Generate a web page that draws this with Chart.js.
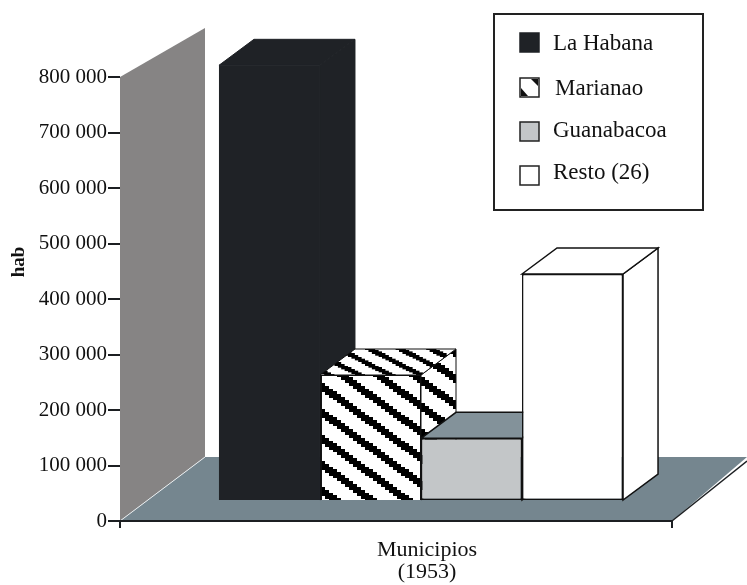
<!DOCTYPE html>
<html>
<head>
<meta charset="utf-8">
<title>Municipios 1953</title>
<script src="https://cdn.jsdelivr.net/npm/chart.js@4"></script>
<style>
    html, body { margin: 0; padding: 0; background: #fff; }
    canvas { display: block; }
</style>
</head>
<body>
<canvas id="chart" width="747" height="585"></canvas>
<script>
// Data
const categories = [["Municipios", "(1953)"]];
const seriesNames = ["La Habana", "Marianao", "Guanabacoa", "Resto (26)"];
const seriesValues = [785000, 227000, 113000, 409000];
const yMax = 800000;
const yStep = 100000;

const SERIF = "'Liberation Serif', 'Times New Roman', serif";

// Black and white stair-stepped stripes for Marianao
function makeStripes() {
    const c = document.createElement("canvas");
    c.width = 36;
    c.height = 26;
    const g = c.getContext("2d");
    g.fillStyle = "#fff";
    g.fillRect(0, 0, 36, 26);
    g.fillStyle = "#000";
    for (let i = 0; i < 36; i += 4) {
        const y = Math.round(i * 26 / 36 + 7) % 26;
        g.fillRect(i, y, 4, 9);
        g.fillRect(i, y - 26, 4, 9);
    }
    return g.createPattern(c, "repeat");
}

const stripes = makeStripes();
const topStripes = makeStripes();
topStripes.setTransform(new DOMMatrix().scale(0.85, 0.6));

const frontColors = ["#1f2226", stripes, "#c3c6c8", "#ffffff"];
const topColors = ["#1f2226", topStripes, "#83929a", "#ffffff"];
const sideColors = ["#1f2226", stripes, "#9ea3a6", "#ffffff"];
const edgeColors = ["#1f2226", "#111", "#111", "#111"];
const edgeWidths = [1, 1, 1.5, 1.5];

function polygon(ctx, pts, fill, stroke, lineWidth) {
    ctx.beginPath();
    pts.forEach((p, i) => i ? ctx.lineTo(p[0], p[1]) : ctx.moveTo(p[0], p[1]));
    ctx.closePath();
    if (fill) {
        ctx.fillStyle = fill;
        ctx.fill();
    }
    if (stroke) {
        ctx.strokeStyle = stroke;
        ctx.lineWidth = lineWidth || 1;
        ctx.stroke();
    }
}

// Back wall and floor go under everything
const roomPlugin = {
    id: "room",
    beforeDraw(chart) {
        const ctx = chart.ctx;
        const x = chart.scales.x;
        const y = chart.scales.y;
        const zero = y.getPixelForValue(0);
        const top = y.getPixelForValue(yMax);
        ctx.save();
        ctx.fillStyle = "#fff";
        ctx.fillRect(0, 0, chart.width, chart.height);
        polygon(ctx, [[x.left, top], [x.left + 85, top - 49], [x.left + 85, zero - 64], [x.left, zero]], "#868484");
        polygon(ctx, [[x.left, zero], [x.left + 85, zero - 64], [x.right + 75, zero - 64], [x.right, zero]], "#75868f");
        ctx.strokeStyle = "#e8ecee";
        ctx.lineWidth = 1;
        ctx.beginPath();
        ctx.moveTo(x.left, zero);
        ctx.lineTo(x.left + 85, zero - 64);
        ctx.stroke();
        ctx.strokeStyle = "#1c1f22";
        ctx.lineWidth = 1.5;
        ctx.beginPath();
        ctx.moveTo(x.right, zero);
        ctx.lineTo(x.right + 75, zero - 60);
        ctx.stroke();
        ctx.restore();
    }
};

// Bars stand a little way back on the floor, with top and side faces behind the fronts
const depthPlugin = {
    id: "depth",
    beforeDatasetsDraw(chart) {
        const ctx = chart.ctx;
        const dx = 35;
        const dy = -26;
        ctx.save();
        ctx.translate(25, -20);
        chart.data.datasets.forEach((ds, i) => {
            const bar = chart.getDatasetMeta(i).data[0];
            const l = bar.x - bar.width / 2;
            const r = bar.x + bar.width / 2;
            const t = bar.y;
            const b = bar.base;
            polygon(ctx, [[r, t], [r + dx, t + dy], [r + dx, b + dy], [r, b]], sideColors[i], edgeColors[i], edgeWidths[i]);
            polygon(ctx, [[l, t], [l + dx, t + dy], [r + dx, t + dy], [r, t]], topColors[i], edgeColors[i], edgeWidths[i]);
        });
    },
    afterDatasetsDraw(chart) {
        chart.ctx.restore();
    }
};

// Legend box and the y title sit at fixed spots in the picture
const legendPlugin = {
    id: "boxLegend",
    afterDraw(chart) {
        const ctx = chart.ctx;
        const swatchRows = [33, 78, 122, 166];
        const textRows = [44, 89, 131, 173];
        ctx.save();
        ctx.fillStyle = "#fff";
        ctx.fillRect(494, 14, 209, 196);
        ctx.strokeStyle = "#222";
        ctx.lineWidth = 2;
        ctx.strokeRect(494, 14, 209, 196);

        ctx.textBaseline = "middle";
        ctx.font = "23px " + SERIF;
        chart.data.datasets.forEach((ds, i) => {
            const sy = swatchRows[i];
            ctx.fillStyle = i === 1 ? "#fff" : frontColors[i];
            ctx.fillRect(520, sy, 19, 19);
            ctx.strokeStyle = i === 0 ? "#1f2226" : "#222";
            ctx.lineWidth = 1.5;
            ctx.strokeRect(520, sy, 19, 19);
            if (i === 1) {
                polygon(ctx, [[531, sy + 1], [538, sy + 1], [538, sy + 8]], "#111");
                polygon(ctx, [[521, sy + 10], [528, sy + 18], [521, sy + 18]], "#111");
            }
            ctx.fillStyle = "#111";
            ctx.fillText(ds.label, i === 1 ? 555 : 553, textRows[i]);
        });

        ctx.translate(19, 262);
        ctx.rotate(-Math.PI / 2);
        ctx.textAlign = "center";
        ctx.font = "bold 19px " + SERIF;
        ctx.fillText("hab", 0, 0);
        ctx.restore();
    }
};

new Chart(document.getElementById("chart"), {
    type: "bar",
    data: {
        labels: categories,
        datasets: seriesNames.map((name, i) => ({
            label: name,
            data: [seriesValues[i]],
            backgroundColor: frontColors[i],
            borderColor: edgeColors[i],
            borderWidth: i === 0 ? 0 : i === 1 ? { left: 2, top: 1, right: 1, bottom: 0 } : 1.5,
            borderSkipped: false
        }))
    },
    options: {
        responsive: false,
        animation: false,
        layout: { padding: { top: 77, right: 75 } },
        categoryPercentage: 0.732,
        barPercentage: 1,
        plugins: {
            legend: { display: false },
            tooltip: { enabled: false }
        },
        scales: {
            x: {
                afterFit: scale => { scale.height = 64; },
                border: { color: "#1c1f22", width: 2 },
                grid: { offset: true, drawOnChartArea: false, color: "#1c1f22", lineWidth: 2, tickLength: 7 },
                ticks: {
                    color: "#111",
                    padding: 11,
                    labelOffset: 31,
                    maxRotation: 0,
                    font: { family: SERIF, size: 22, lineHeight: 1 }
                }
            },
            y: {
                min: 0,
                max: yMax,
                afterFit: scale => { scale.width = 120; },
                border: { display: false },
                grid: { drawOnChartArea: false, color: "#1c1f22", lineWidth: 2, tickLength: 12 },
                ticks: {
                    stepSize: yStep,
                    color: "#111",
                    padding: 1,
                    font: { family: SERIF, size: 21 },
                    callback: value => String(value).replace(/\B(?=(\d{3})+$)/g, " ")
                }
            }
        }
    },
    plugins: [roomPlugin, depthPlugin, legendPlugin]
});
</script>
</body>
</html>
